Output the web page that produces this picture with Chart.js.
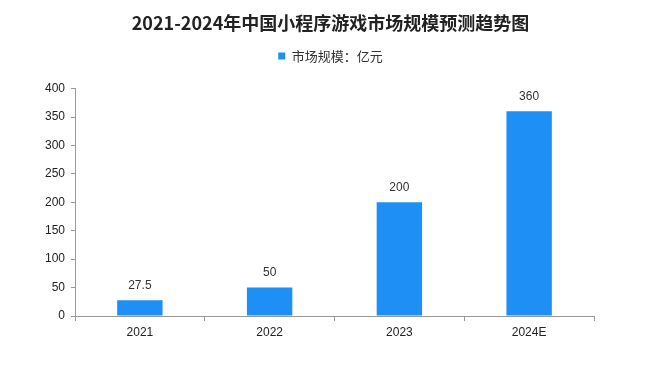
<!DOCTYPE html>
<html><head><meta charset="utf-8">
<script src="https://cdn.jsdelivr.net/npm/chart.js@4"></script>
<style>html,body{margin:0;padding:0;background:#fff}#wrap{width:661px;height:375px}</style>
</head><body><div id="wrap"><canvas id="c" width="661" height="375"></canvas></div>
<script>
const categories = ['2021', '2022', '2023', '2024E'];
const marketSize = [27.5, 50, 200, 360];
const yTicks = [0, 50, 100, 150, 200, 250, 300, 350, 400];
const seriesName = '市场规模：亿元';
const titleText = '2021-2024年中国小程序游戏市场规模预测趋势图';

const labelPlugin = {
  id: 'valueLabels',
  afterDatasetsDraw(chart) {
    const ctx = chart.ctx;
    const meta = chart.getDatasetMeta(0);
    ctx.save();
    ctx.font = '12px "Liberation Sans", "DejaVu Sans", sans-serif';
    ctx.fillStyle = '#333';
    ctx.textAlign = 'center';
    ctx.textBaseline = 'middle';
    meta.data.forEach((bar, i) => {
      ctx.fillText(String(marketSize[i]), bar.x, bar.y - 15);
    });
    ctx.restore();
  }
};

new Chart(document.getElementById('c'), {
  type: 'bar',
  data: {
    labels: categories,
    datasets: [{
      label: seriesName,
      data: marketSize,
      backgroundColor: '#1e90f5',
      categoryPercentage: 1,
      barPercentage: 0.35
    }]
  },
  options: {
    responsive: false,
    animation: false,
    layout: { padding: { left: 0, right: 0, top: 4, bottom: 29 } },
    plugins: {
      title: {
        display: true, text: titleText, color: '#222',
        font: { family: '"Noto Sans CJK SC", sans-serif', size: 18, weight: 'bold' },
        padding: { top: 8, bottom: 6 }
      },
      legend: {
        display: true,
        labels: {
          boxWidth: 7, boxHeight: 7, color: '#333',
          font: { family: '"Noto Sans CJK SC", sans-serif', size: 13 },
          padding: 10
        }
      },
      tooltip: { enabled: false }
    },
    scales: {
      x: {
        grid: { display: true, drawOnChartArea: false, drawTicks: true, tickLength: 5, color: '#999', offset: true },
        border: { color: '#999' },
        ticks: { color: '#222', font: { family: '"Liberation Sans", sans-serif', size: 12 }, padding: 4 },
        afterFit(s) { s.height = 30; }
      },
      xTop: {
        position: 'top', type: 'category', labels: categories,
        grid: { display: false }, border: { display: false }, ticks: { display: false },
        afterFit(s) { s.height = 16; }
      },
      y: {
        min: 0, max: 400,
        afterBuildTicks(s) { s.ticks = yTicks.map(v => ({ value: v })); },
        grid: { display: true, drawOnChartArea: false, drawTicks: true, tickLength: 4, color: '#999' },
        border: { color: '#999' },
        ticks: { color: '#222', font: { family: '"Liberation Sans", sans-serif', size: 12 }, padding: 6 },
        afterFit(s) { s.width = 75; }
      },
      yRight: {
        position: 'right', min: 0, max: 400,
        grid: { display: false }, border: { display: false }, ticks: { display: false },
        afterFit(s) { s.width = 67; }
      }
    }
  },
  plugins: [labelPlugin]
});
</script></body></html>
